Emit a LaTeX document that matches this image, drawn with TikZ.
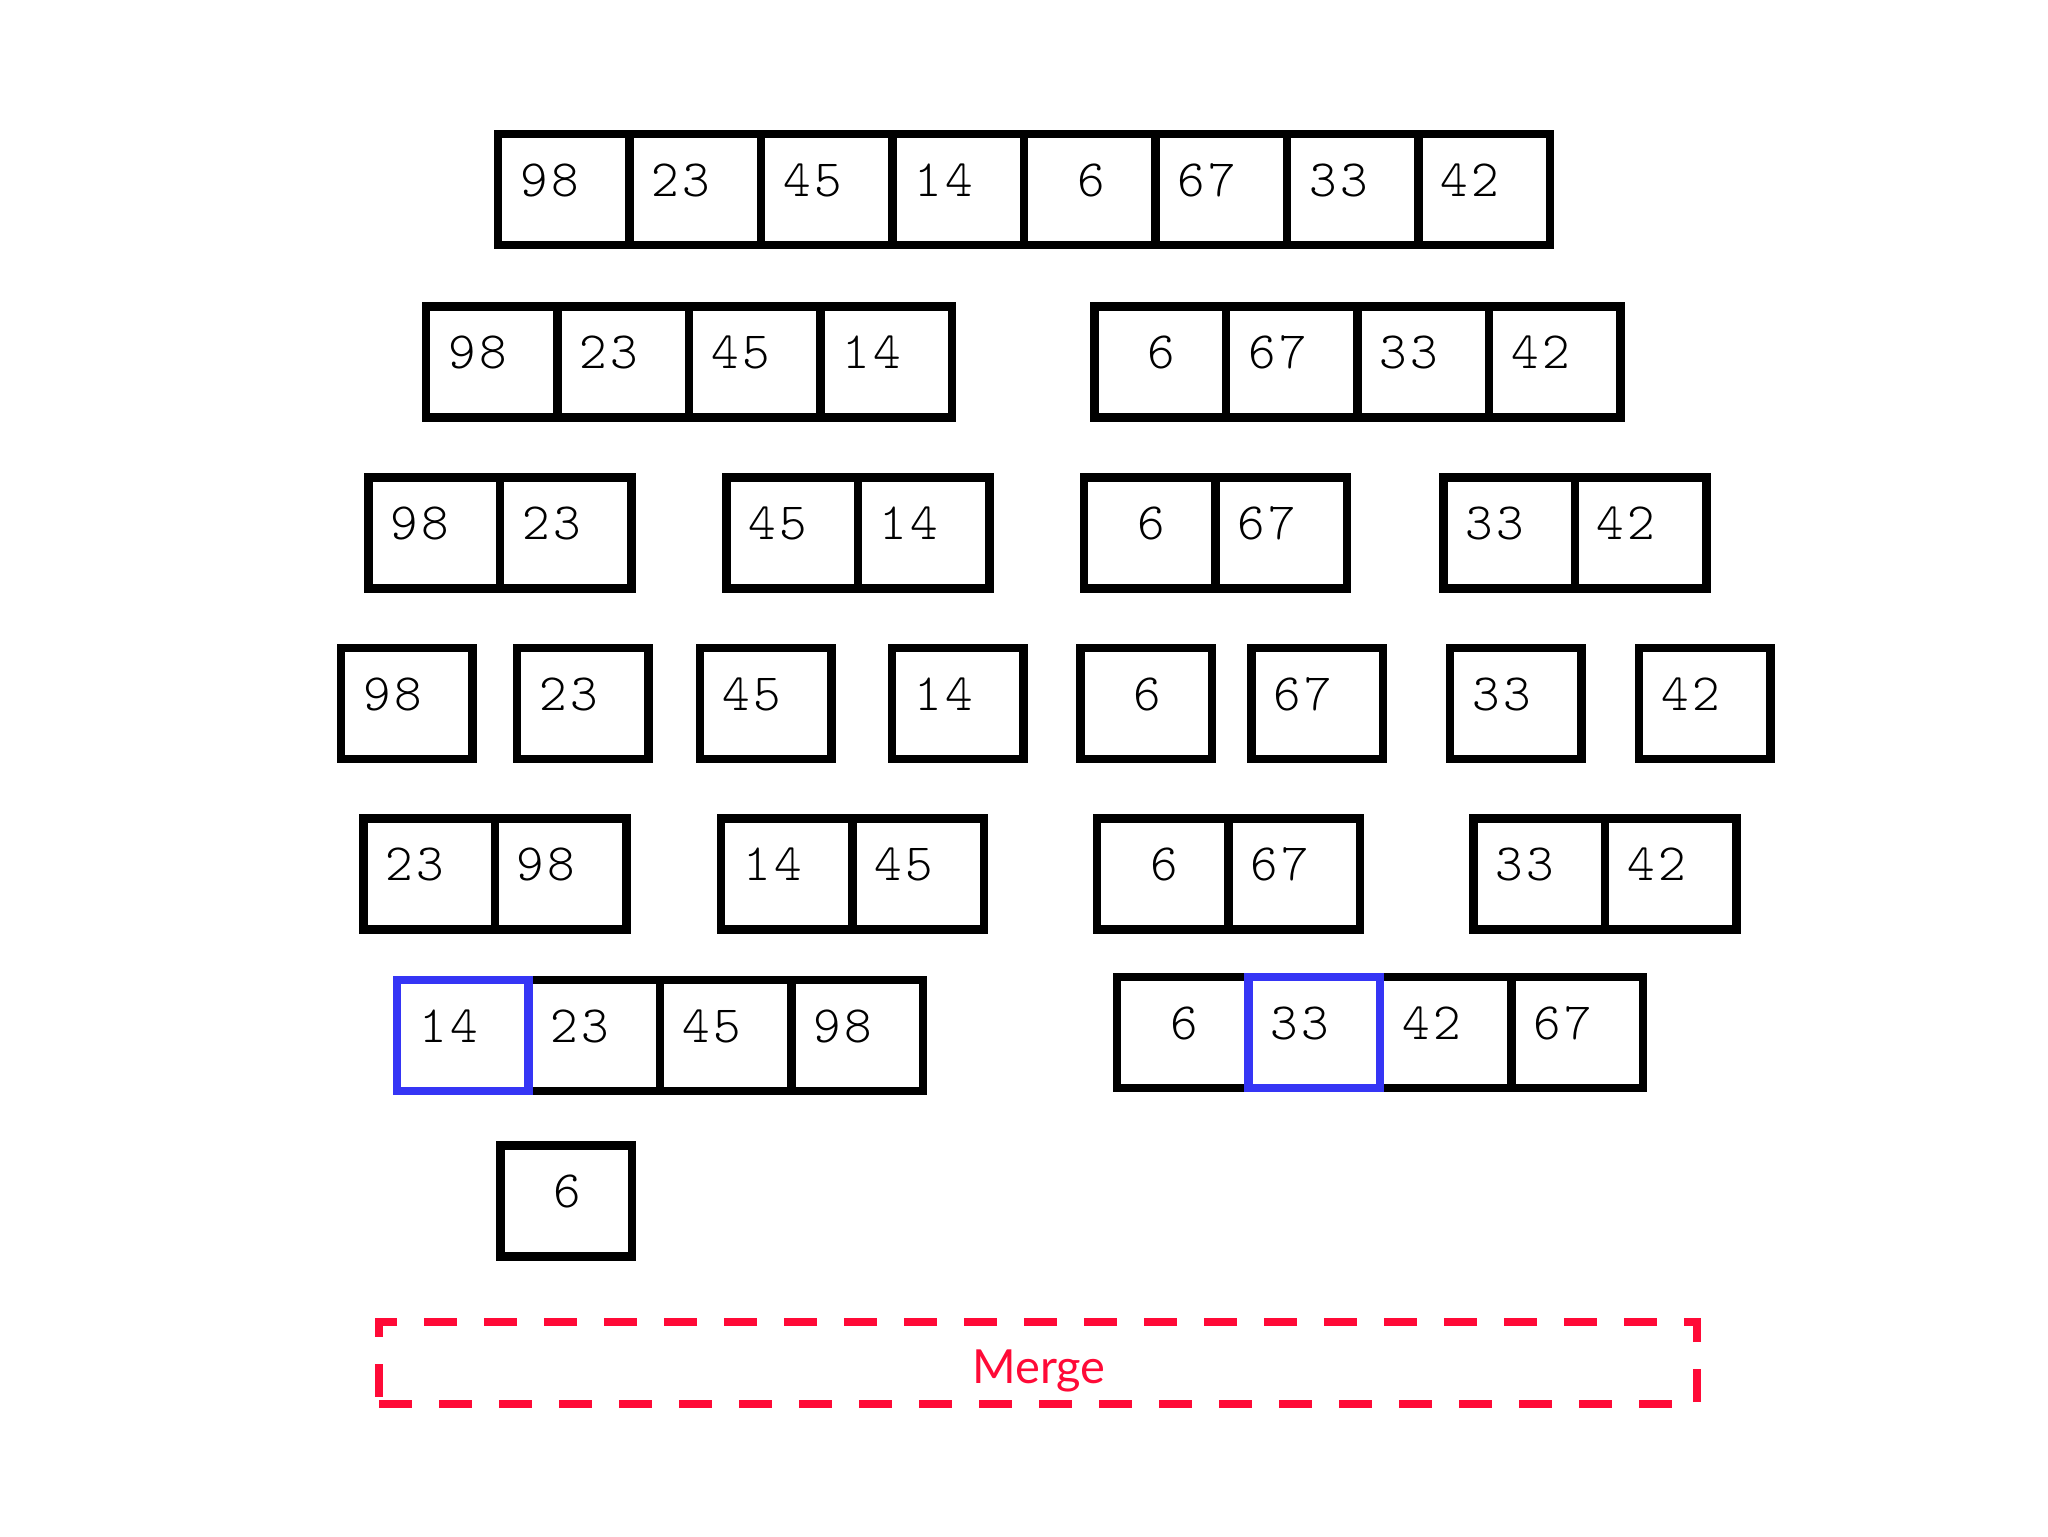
\documentclass[tikz,border=0pt]{standalone}
\usepackage{fontspec}
\newfontfamily\latofont{Lato}
\newfontfamily\digitfont{lmmonolt10-regular.otf}
\definecolor{mergered}{HTML}{FF0A37}
\definecolor{hiblue}{HTML}{3535F5}
\tikzset{
  cellbox/.style={draw=black, line width=4.25pt, minimum width=65.75pt, minimum height=55.5pt, inner sep=0pt, outer sep=0pt},
  numtext/.style={inner sep=0pt, font=\digitfont\fontsize{26.2pt}{30pt}\selectfont, anchor=base west},
  hicell/.style={cellbox, draw=hiblue},
  mergebox/.style={draw=mergered, line width=4pt, dash pattern=on 16.5pt off 13.5pt, minimum width=659pt, minimum height=41pt, inner sep=0pt},
  mergetext/.style={font=\latofont\fontsize{23.5pt}{28pt}\selectfont, text=mergered, inner sep=0pt, anchor=base}
}
\newcommand\cellnum[2]{\makebox[15.5pt][c]{#1}\makebox[15.5pt][c]{#2}}
\newcommand\cellgroup[4]{%
  \foreach \a/\b [count=\i] in {#4}{
    \node[cellbox] (#1-\i) at ({#2+(\i-0.5)*131.5},#3) {};
    \node[numtext] (#1-\i-t) at ({#2+(\i-1)*131.5+20},{#3+6.5}) {\cellnum{\a}{\b}};
  }}
\begin{document}
\begin{tikzpicture}[x=0.5pt,y=-0.5pt]
\useasboundingbox[fill=white] (0,0) rectangle (2048,1536);
% row 1
\cellgroup{r1}{498}{189.5}{9/8,2/3,4/5,1/4,{}/6,6/7,3/3,4/2}
% row 2
\cellgroup{r2a}{426}{361.8}{9/8,2/3,4/5,1/4}
\cellgroup{r2b}{1094.6}{361.8}{{}/6,6/7,3/3,4/2}
% row 3
\cellgroup{r3a}{368.5}{532.9}{9/8,2/3}
\cellgroup{r3b}{726.3}{532.9}{4/5,1/4}
\cellgroup{r3c}{1084.2}{532.9}{{}/6,6/7}
\cellgroup{r3d}{1443.3}{532.9}{3/3,4/2}
% row 4
\cellgroup{r4a}{341}{703.5}{9/8}
\cellgroup{r4b}{517}{703.5}{2/3}
\cellgroup{r4c}{700.2}{703.5}{4/5}
\cellgroup{r4d}{892.2}{703.5}{1/4}
\cellgroup{r4e}{1080.3}{703.5}{{}/6}
\cellgroup{r4f}{1251.4}{703.5}{6/7}
\cellgroup{r4g}{1450}{703.5}{3/3}
\cellgroup{r4h}{1639.2}{703.5}{4/2}
% row 5
\cellgroup{r5a}{363.3}{873.8}{2/3,9/8}
\cellgroup{r5b}{721.1}{873.8}{1/4,4/5}
\cellgroup{r5c}{1097.2}{873.8}{{}/6,6/7}
\cellgroup{r5d}{1473.4}{873.8}{3/3,4/2}
% row 6
\cellgroup{r6a}{397.2}{1035.7}{1/4,2/3,4/5,9/8}
\cellgroup{r6b}{1116.9}{1032.5}{{}/6,3/3,4/2,6/7}
\node[hicell] (hi1) at (r6a-1) {};
\node[hicell] (hi2) at (r6b-2) {};
% row 7
\cellgroup{r7}{500.4}{1201}{{}/6}
% merge
\node[mergebox] (merge) at (1038,1363) {};
\node[mergetext] (mergelabel) at (1039,1383) {Merge};
\end{tikzpicture}
\end{document}
